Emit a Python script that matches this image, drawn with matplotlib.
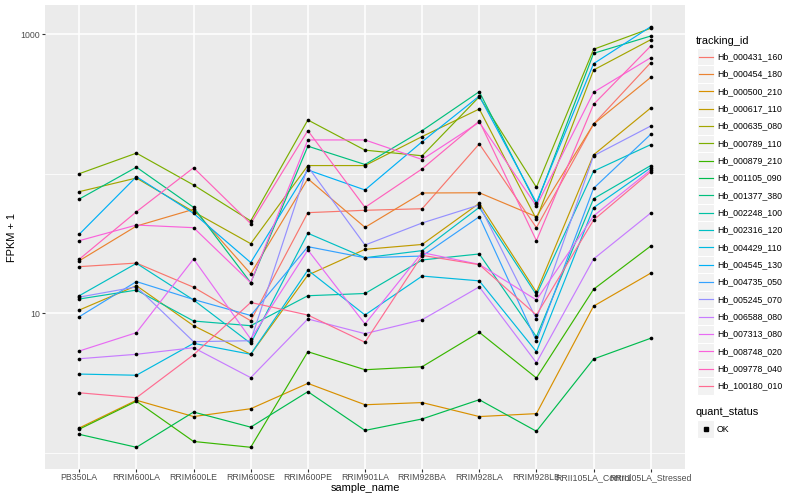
import matplotlib.pyplot as plt
from matplotlib.lines import Line2D
from matplotlib.patches import Rectangle
from matplotlib.ticker import NullFormatter

# x categories
samples = ["PB350LA", "RRIM600LA", "RRIM600LE", "RRIM600SE", "RRIM600PE",
           "RRIM901LA", "RRIM928BA", "RRIM928LA", "RRIM928LB",
           "RRII105LA_Control", "RRII105LA_Stressed"]

# FPKM + 1 per gene, one value per sample
hb_000431_160 = [21.5, 22.8, 15.3, 8.8, 52.4, 54.5, 55.9, 163, 40.9, 226, 623]
hb_000454_180 = [23.7, 42.0, 55.4, 19.1, 91.7, 41.1, 72.5, 72.8, 49.0, 226, 489]
hb_000500_210 = [1.50, 2.37, 1.81, 2.06, 3.13, 2.20, 2.28, 1.81, 1.90, 11.2, 19.3]
hb_000617_110 = [10.5, 15.7, 8.11, 5.06, 18.7, 28.6, 31.0, 61.2, 14.1, 136, 295]
hb_000635_080 = [74.1, 92.8, 53.2, 31.4, 114, 114, 184, 290, 47.0, 552, 910]
hb_000789_110 = [99.7, 140, 82.7, 45.7, 242, 147, 134, 355, 79.6, 777, 1099]
hb_000879_210 = [1.47, 2.33, 1.20, 1.09, 5.28, 3.92, 4.12, 7.27, 3.42, 14.8, 30.2]
hb_001105_090 = [1.35, 1.09, 1.95, 1.52, 2.73, 1.44, 1.74, 2.39, 1.42, 4.68, 6.59]
hb_001377_380 = [65.6, 111, 57.2, 16.5, 157, 116, 203, 386, 60.2, 727, 967]
hb_002248_100 = [12.6, 14.6, 8.76, 8.11, 13.3, 13.8, 24.0, 26.5, 6.76, 66.0, 114]
hb_002316_120 = [13.3, 22.7, 12.4, 6.06, 37.3, 24.9, 28.0, 57.2, 13.5, 104, 161]
hb_004429_110 = [3.65, 3.58, 6.06, 5.06, 20.3, 9.68, 18.4, 17.0, 5.28, 56.9, 110]
hb_004545_130 = [36.7, 94.9, 51.8, 23.0, 106, 76.2, 169, 359, 61.8, 613, 1128]
hb_004735_050 = [9.41, 16.8, 12.5, 9.60, 29.9, 24.9, 25.6, 49.0, 6.30, 78.3, 191]
hb_005245_070 = [13.0, 15.4, 6.23, 6.33, 112, 30.7, 44.2, 59.5, 9.06, 134, 219]
hb_006588_080 = [4.70, 5.06, 5.64, 3.44, 9.06, 7.11, 8.95, 15.4, 4.40, 24.4, 52.1]
hb_007313_080 = [5.34, 7.23, 24.4, 6.51, 28.3, 8.34, 27.1, 22.3, 12.4, 49.6, 106]
hb_008748_020 = [33.0, 42.7, 40.9, 16.5, 174, 174, 126, 233, 58.5, 382, 676]
hb_009778_040 = [24.3, 53.2, 110, 43.7, 203, 57.2, 108, 238, 33.0, 313, 820]
hb_100180_010 = [2.68, 2.47, 5.02, 11.9, 9.67, 6.17, 25.9, 22.2, 9.67, 46.4, 103]

tracking_ids = ["Hb_000431_160", "Hb_000454_180", "Hb_000500_210", "Hb_000617_110",
                "Hb_000635_080", "Hb_000789_110", "Hb_000879_210", "Hb_001105_090",
                "Hb_001377_380", "Hb_002248_100", "Hb_002316_120", "Hb_004429_110",
                "Hb_004545_130", "Hb_004735_050", "Hb_005245_070", "Hb_006588_080",
                "Hb_007313_080", "Hb_008748_020", "Hb_009778_040", "Hb_100180_010"]
series = [hb_000431_160, hb_000454_180, hb_000500_210, hb_000617_110, hb_000635_080,
          hb_000789_110, hb_000879_210, hb_001105_090, hb_001377_380, hb_002248_100,
          hb_002316_120, hb_004429_110, hb_004545_130, hb_004735_050, hb_005245_070,
          hb_006588_080, hb_007313_080, hb_008748_020, hb_009778_040, hb_100180_010]

# ggplot hue palette for 20 levels
colors = ["#F8766D", "#EA8331", "#D89000", "#C09B00", "#A3A500", "#7CAE00", "#39B600",
          "#00BB4E", "#00BF7D", "#00C1A3", "#00BFC4", "#00BAE0", "#00B0F6", "#35A2FF",
          "#9590FF", "#C77CFF", "#E76BF3", "#FA62DB", "#FF62BC", "#FF6C91"]

plt.rcParams['font.family'] = ['Liberation Sans', 'DejaVu Sans']

W, H = 800, 500
fig = plt.figure(figsize=(8, 5), dpi=100)
ax = fig.add_axes([45 / W, 31.5 / H, 640 / W, 463.5 / H])
ax.set_facecolor('#EBEBEB')

xs = list(range(1, len(samples) + 1))
for vals, col in zip(series, colors):
    ax.plot(xs, vals, color=col, lw=0.85, zorder=3)
for vals in series:
    ax.scatter(xs, vals, s=7, marker='o', color='black', linewidths=0, zorder=4)

ax.set_yscale('log')
ax.set_ylim(0.768, 1614)
ax.set_xlim(0.4, 11.6)
ax.set_xticks(xs)
ax.set_xticklabels(samples)
ax.set_yticks([10, 1000])
ax.set_yticklabels(['10', '1000'])
ax.set_yticks([1, 100], minor=True)
ax.yaxis.set_minor_formatter(NullFormatter())

ax.grid(which='major', color='white', lw=1.1)
ax.grid(which='minor', axis='y', color='white', lw=0.55)
ax.set_axisbelow(True)
for s in ax.spines.values():
    s.set_visible(False)
ax.tick_params(which='major', length=2.0, width=0.8, color='#333333',
               labelsize=6.3, labelcolor='#4D4D4D', pad=1.6)
ax.tick_params(which='minor', length=0)

# axis titles
fig.text(365 / W, 1 - 488 / H, 'sample_name', ha='center', va='center', fontsize=7.9)
fig.text(12 / W, 1 - 237 / H, 'FPKM + 1', ha='center', va='center', rotation=90, fontsize=7.9)

# legend: tracking_id
def key_box(yc):
    fig.add_artist(Rectangle((697 / W, 1 - (yc + 8.6) / H), 17.2 / W, 17.2 / H,
                             transform=fig.transFigure, facecolor='#F2F2F2',
                             edgecolor='white', lw=0.8))

fig.text(696 / W, 1 - 40.7 / H, 'tracking_id', ha='left', va='center', fontsize=7.9)
for i, (name, col) in enumerate(zip(tracking_ids, colors)):
    yc = 56.7 + 17.33 * i
    key_box(yc)
    fig.add_artist(Line2D([698.5 / W, 712.5 / W], [1 - yc / H, 1 - yc / H],
                          transform=fig.transFigure, color=col, lw=0.85))
    fig.text(717 / W, 1 - yc / H, name, ha='left', va='center', fontsize=6.3)

# legend: quant_status
fig.text(696 / W, 1 - 412.3 / H, 'quant_status', ha='left', va='center', fontsize=7.9)
key_box(429)
fig.add_artist(Line2D([705.6 / W], [1 - 429 / H], transform=fig.transFigure,
                      marker='s', markersize=2.3, color='black', lw=0))
fig.text(717 / W, 1 - 429 / H, 'OK', ha='left', va='center', fontsize=6.3)

fig.savefig('out.png', dpi=100)
